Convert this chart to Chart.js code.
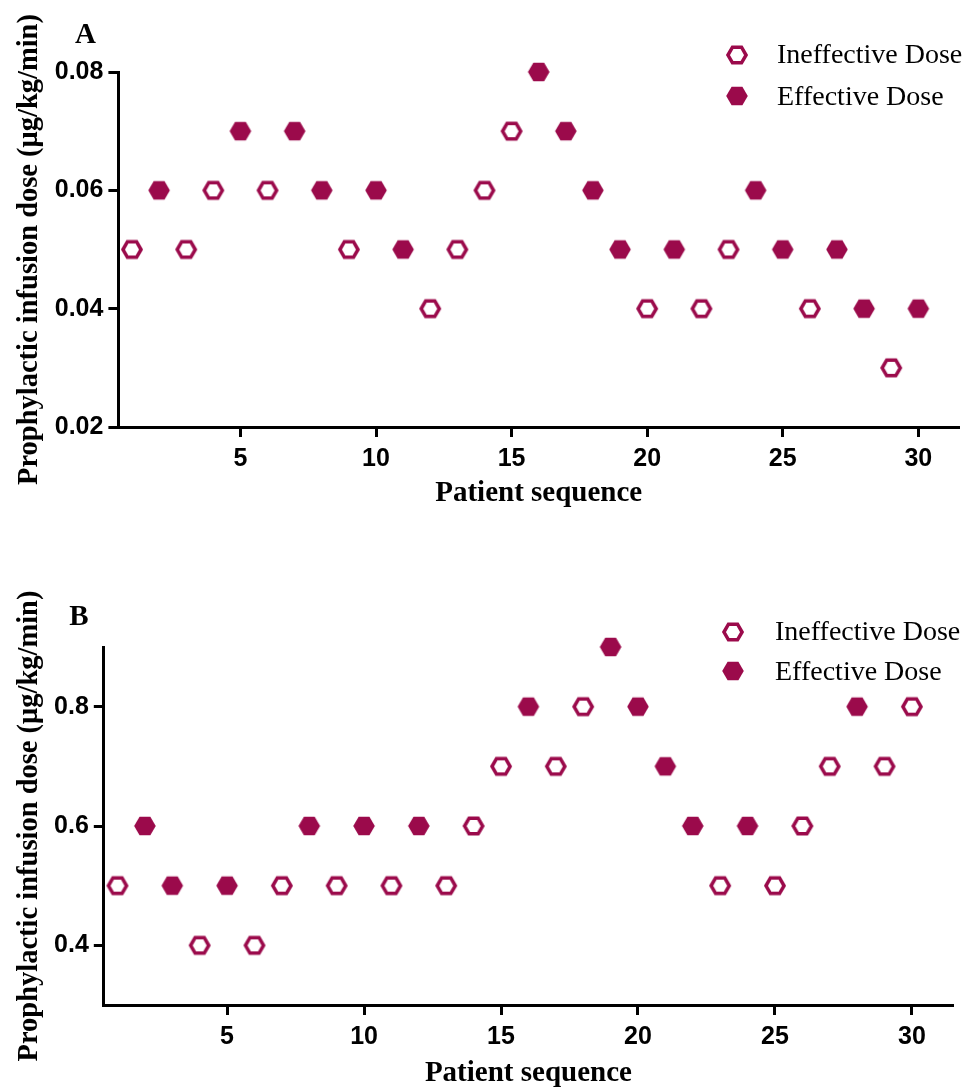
<!DOCTYPE html>
<html><head><meta charset="utf-8">
<script src="https://cdn.jsdelivr.net/npm/chart.js@4.4.1/dist/chart.umd.min.js"></script>
<style>
html,body{margin:0;padding:0;background:#fff;}
#wrap{position:relative;width:970px;height:1088px;overflow:hidden;background:#fff;}
canvas{position:absolute;left:0;}
</style></head><body>
<div id="wrap">
<canvas id="chartA" width="970" height="545" style="top:0px"></canvas>
<canvas id="chartB" width="970" height="543" style="top:545px"></canvas>
</div>
<script>
// ---- data ----
const patientSeq = [1,2,3,4,5,6,7,8,9,10,11,12,13,14,15,16,17,18,19,20,21,22,23,24,25,26,27,28,29,30];
const doseA = [0.05,0.06,0.05,0.06,0.07,0.06,0.07,0.06,0.05,0.06,0.05,0.04,0.05,0.06,0.07,0.08,0.07,0.06,0.05,0.04,0.05,0.04,0.05,0.06,0.05,0.04,0.05,0.04,0.03,0.04];
const outcomeA = [0,1,0,0,1,0,1,1,0,1,1,0,0,0,0,1,1,1,1,0,1,0,0,1,1,0,1,1,0,1]; // 1 = effective
const doseB = [0.5,0.6,0.5,0.4,0.5,0.4,0.5,0.6,0.5,0.6,0.5,0.6,0.5,0.6,0.7,0.8,0.7,0.8,0.9,0.8,0.7,0.6,0.5,0.6,0.5,0.6,0.7,0.8,0.7,0.8];
const outcomeB = [0,1,1,0,1,0,0,1,0,1,0,1,0,0,0,1,0,0,1,1,1,1,0,1,0,0,0,1,0,0];
const xTicks = [5,10,15,20,25,30];
const yTicksA = [0.02,0.04,0.06,0.08];
const yTickLabelsA = ['0.02','0.04','0.06','0.08'];
const yTicksB = [0.4,0.6,0.8];
const yTickLabelsB = ['0.4','0.6','0.8'];
const seriesNames = ['Ineffective Dose','Effective Dose'];
const xTitle = 'Patient sequence';
const yTitle = 'Prophylactic infusion dose (μg/kg/min)';

// ---- styles ----
const COLOR = '#9b0a4b';
function hexImage(filled){
  const R = 10.8, lw = 3.5;
  const c = document.createElement('canvas');
  c.width = 24; c.height = 22;
  const g = c.getContext('2d');
  const cx = 12, cy = 11;
  const r = filled ? R : R - lw/2;
  g.beginPath();
  for (let i=0;i<6;i++){
    const a = Math.PI/3*i;
    const px = cx + r*Math.cos(a), py = cy + r*Math.sin(a);
    if (i) g.lineTo(px,py); else g.moveTo(px,py);
  }
  g.closePath();
  if (filled){ g.fillStyle = COLOR; g.fill(); }
  else { g.fillStyle = '#fff'; g.fill(); g.lineWidth = lw; g.lineJoin = 'miter'; g.strokeStyle = COLOR; g.stroke(); }
  return c;
}
const openImg = hexImage(false);
const filledImg = hexImage(true);

function buildDatasets(dose, outcome){
  return [0,1].map(k => ({
    label: seriesNames[k],
    data: patientSeq.map((p,i)=>({x:p, y:dose[i]})).filter((_,i)=>outcome[i]===k),
    pointStyle: k ? filledImg : openImg,
    pointRadius: 10,
    showLine: false,
    clip: false
  }));
}

const decoPlugin = {
  id: 'panelDeco',
  afterDraw(chart, args, o){
    const ctx = chart.ctx;
    ctx.save();
    ctx.fillStyle = '#000';
    ctx.font = 'bold 29px "Liberation Serif"';
    ctx.textAlign = 'center';
    ctx.textBaseline = 'alphabetic';
    ctx.fillText(o.letter, o.letterX, o.letterY);
    ctx.font = '28px "Liberation Serif"';
    ctx.textAlign = 'left';
    o.legend.forEach((it, k) => {
      const ds = chart.data.datasets[k];
      const img = ds.pointStyle;
      ctx.drawImage(img, it.mx - img.width/2, it.my - img.height/2);
      ctx.fillText(ds.label, it.tx, it.ty);
    });
    ctx.restore();
  }
};

function makeOptions(cfg){
  return {
    responsive: false, maintainAspectRatio: false, animation: false, devicePixelRatio: 1, events: [],
    layout: { padding: { top: cfg.top, right: cfg.right, bottom: 0, left: 0 } },
    plugins: { legend: { display: false }, tooltip: { enabled: false }, panelDeco: cfg.deco },
    scales: {
      x: {
        type: 'linear', min: 0.5, max: 31.5,
        afterBuildTicks: s => { s.ticks = xTicks.map(v => ({ value: v })); },
        afterFit: s => { s.height = cfg.xHeight; },
        grid: { display: true, drawOnChartArea: false, drawTicks: true, tickLength: 10, tickWidth: 3, tickColor: '#000', color: '#000' },
        border: { display: true, color: '#000', width: 3 },
        ticks: { color: '#000', font: { family: 'Liberation Sans', size: 25, weight: 'bold' }, padding: 7, maxRotation: 0, autoSkip: false,
                 callback: v => String(v) },
        title: { display: true, text: xTitle, color: '#000',
                 font: { family: 'Liberation Serif', size: 29, weight: 'bold', lineHeight: 1 },
                 padding: { top: 0, bottom: cfg.xTitlePad } }
      },
      y: {
        type: 'linear', min: cfg.yMin, max: cfg.yMax,
        afterBuildTicks: s => { s.ticks = cfg.yTicks.map(v => ({ value: v })); },
        afterFit: s => { s.width = cfg.yWidth; },
        grid: { display: true, drawOnChartArea: false, drawTicks: true, tickLength: 10, tickWidth: 3, tickColor: '#000', color: '#000' },
        border: { display: true, color: '#000', width: 3 },
        ticks: { color: '#000', font: { family: 'Liberation Sans', size: 25, weight: 'bold' }, padding: 5, autoSkip: false,
                 callback: (v, i) => cfg.yLabels[i] },
        title: { display: true, text: yTitle, color: '#000',
                 font: { family: 'Liberation Serif', size: 28.5, weight: 'bold', lineHeight: 1 },
                 padding: { top: 15, bottom: 0 } }
      }
    }
  };
}

new Chart(document.getElementById('chartA'), {
  type: 'scatter',
  data: { datasets: buildDatasets(doseA, outcomeA) },
  options: makeOptions({
    top: 72, right: 9, xHeight: 118, yWidth: 118.4, xTitlePad: 37,
    yMin: 0.02, yMax: 0.08, yTicks: yTicksA, yLabels: yTickLabelsA,
    deco: { letter: 'A', letterX: 85.5, letterY: 43,
            legend: [ { mx: 737, my: 55, tx: 777, ty: 63 }, { mx: 737, my: 96, tx: 777, ty: 105 } ] }
  }),
  plugins: [decoPlugin]
});

new Chart(document.getElementById('chartB'), {
  type: 'scatter',
  data: { datasets: buildDatasets(doseB, outcomeB) },
  options: makeOptions({
    top: 102, right: 17, xHeight: 83, yWidth: 103.8, xTitlePad: 0,
    yMin: 0.3, yMax: 0.9, yTicks: yTicksB, yLabels: yTickLabelsB,
    deco: { letter: 'B', letterX: 79, letterY: 80,
            legend: [ { mx: 733, my: 87, tx: 775, ty: 95 }, { mx: 733, my: 126, tx: 775, ty: 135 } ] }
  }),
  plugins: [decoPlugin]
});
</script>
</body></html>
